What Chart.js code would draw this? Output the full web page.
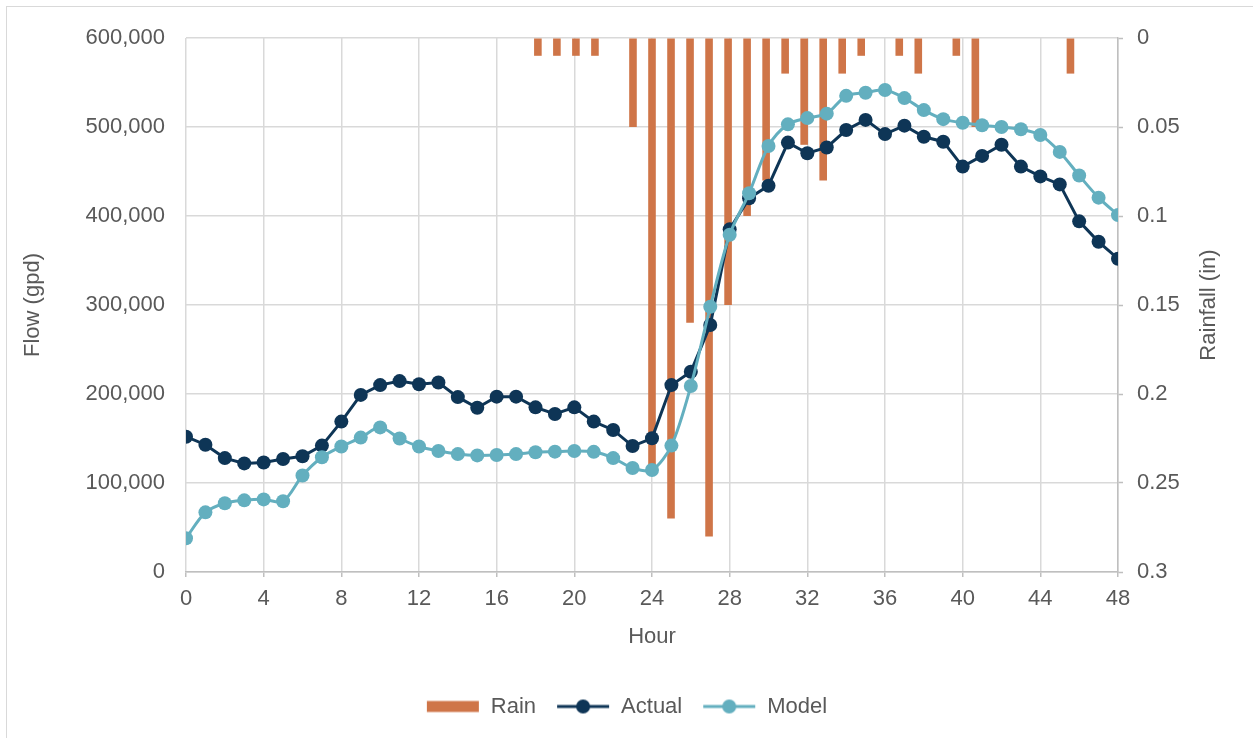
<!DOCTYPE html>
<html><head><meta charset="utf-8">
<script src="https://cdn.jsdelivr.net/npm/chart.js@4.4.1/dist/chart.umd.min.js"></script>
<style>
html,body{margin:0;padding:0;background:#fff;}
#wrap{position:relative;width:1253px;height:738px;overflow:hidden;background:#fff;}
#frame{position:absolute;left:6px;top:6px;width:1300px;height:800px;border:1.5px solid #d9d9d9;box-sizing:border-box;}
#c{position:absolute;left:0;top:0;}
</style></head><body>
<div id="wrap"><div id="frame"></div><canvas id="c" width="1253" height="738"></canvas></div>
<script>
// ---- data ----
const hours = [0,1,2,3,4,5,6,7,8,9,10,11,12,13,14,15,16,17,18,19,20,21,22,23,24,25,26,27,28,29,30,31,32,33,34,35,36,37,38,39,40,41,42,43,44,45,46,47,48];
const hourTickLabels = ['0','4','8','12','16','20','24','28','32','36','40','44','48'];
const flowTickLabels = ['0','100,000','200,000','300,000','400,000','500,000','600,000'];
const rainTickLabels = ['0','0.05','0.1','0.15','0.2','0.25','0.3'];
const actual = [152000,143000,128000,122000,123000,127000,130000,142000,169000,199000,210000,214500,211000,213000,196500,184500,197000,197000,185000,177500,185000,169000,159600,141500,150200,210000,225000,277500,385000,420000,434000,482500,470500,477000,496600,508000,492000,501500,489000,483500,455500,467500,480000,455500,444500,435500,394000,371000,352000];
const model = [38000,67000,77300,80500,81600,79500,108500,129000,141000,151000,162500,150000,141000,136000,132500,131000,131500,132500,134500,135200,136000,135000,128000,116800,114600,142000,209000,298000,379000,425500,478700,503000,510000,515000,535000,538500,541600,532500,519000,508800,504800,502000,500000,497400,491000,472000,445500,420600,401000];
const rain = [0,0,0,0,0,0,0,0,0,0,0,0,0,0,0,0,0,0,0.01,0.01,0.01,0.01,0,0.05,0.24,0.27,0.16,0.28,0.15,0.10,0.08,0.02,0.06,0.08,0.02,0.01,0,0.01,0.02,0,0.01,0.05,0,0,0,0,0.02,0,0];

// ---- styles ----
const FONT = "'Liberation Sans', Arial, sans-serif";
const FS = 22;
const TXT = '#595959';
const GRID = '#d9d9d9';
const AXIS = '#bfbfbf';
const RAIN_C = '#CF7548';
const ACT_C = '#0E3556';
const MOD_C = '#63AFBF';

function legendImg(kind, color){
  const cv = document.createElement('canvas');
  cv.width = 54; cv.height = 16;
  const g = cv.getContext('2d');
  if (kind === 'bar'){
    g.fillStyle = color; g.fillRect(1,2.5,52,11);
  } else {
    g.strokeStyle = color; g.lineWidth = 3;
    g.beginPath(); g.moveTo(1,8); g.lineTo(53,8); g.stroke();
    g.fillStyle = color; g.beginPath(); g.arc(27,8,7,0,Math.PI*2); g.fill();
  }
  return cv;
}
const legendImgs = [legendImg('bar',RAIN_C), legendImg('line',ACT_C), legendImg('line',MOD_C)];

const rightTitle = {
  id:'rightTitle',
  afterDraw(chart){
    const ctx = chart.ctx;
    ctx.save();
    ctx.translate(1209, (chart.chartArea.top+chart.chartArea.bottom)/2);
    ctx.rotate(-Math.PI/2);
    ctx.fillStyle = TXT;
    ctx.font = FS + "px " + FONT;
    ctx.textAlign = 'center';
    ctx.textBaseline = 'middle';
    ctx.fillText('Rainfall (in)', 0, 0);
    ctx.restore();
  }
};

new Chart(document.getElementById('c'), {
  data: {
    labels: hours,
    datasets: [
      {
        type:'bar', label:'Rain', data: rain, xAxisID:'xb', yAxisID:'y2',
        backgroundColor: RAIN_C, borderWidth:0, grouped:false,
        categoryPercentage:0.8, barPercentage:0.5, maxBarThickness:8, order:3
      },
      {
        type:'line', label:'Actual', data: hours.map((h,i)=>({x:h,y:actual[i]})),
        xAxisID:'x', yAxisID:'y', borderColor: ACT_C, backgroundColor: ACT_C,
        borderWidth:3, pointRadius:7, pointBorderWidth:0, pointBackgroundColor: ACT_C,
        tension:0, order:2
      },
      {
        type:'line', label:'Model', data: hours.map((h,i)=>({x:h,y:model[i]})),
        xAxisID:'x', yAxisID:'y', borderColor: MOD_C, backgroundColor: MOD_C,
        borderWidth:3, pointRadius:7, pointBorderWidth:0, pointBackgroundColor: MOD_C,
        tension:0.3, order:1
      }
    ]
  },
  options: {
    responsive:false, animation:false,
    layout:{ padding:{ left:0, right:0, top:38, bottom:10.5 } },
    font:{ family: FONT },
    scales: {
      x: {
        type:'linear', position:'bottom', min:0, max:48,
        afterFit(s){ s.height = 103.5; },
        ticks:{ stepSize:4, color:TXT, font:{family:FONT,size:FS}, padding:9, maxRotation:0,
                callback:(v,i)=>hourTickLabels[i] },
        grid:{ color:GRID, lineWidth:1.5, drawTicks:true, tickLength:5, tickColor:AXIS, tickWidth:1.5 },
        border:{ color:AXIS, width:1.5 },
        title:{ display:true, text:'Hour', color:TXT, font:{family:FONT,size:FS}, padding:{top:0,bottom:25} }
      },
      xb: {
        type:'category', labels: hours.map(String), offset:true, display:false
      },
      y: {
        type:'linear', position:'left', min:0, max:600000,
        afterFit(s){ s.width = 186; },
        ticks:{ stepSize:100000, color:TXT, font:{family:FONT,size:FS}, padding:21,
                callback:(v,i)=>flowTickLabels[i] },
        grid:{ color:GRID, lineWidth:1.5, drawTicks:false },
        border:{ display:false },
        title:{ display:true, text:'Flow (gpd)', color:TXT, font:{family:FONT,size:FS}, padding:{top:20,bottom:0} }
      },
      y2: {
        type:'linear', position:'right', reverse:true, min:0, max:0.3,
        afterFit(s){ s.width = 135; },
        ticks:{ stepSize:0.05, color:TXT, font:{family:FONT,size:FS}, padding:14,
                callback:(v,i,ticks)=>rainTickLabels[ticks.length-1-i] },
        grid:{ drawOnChartArea:false, drawTicks:true, tickLength:5, tickColor:AXIS, tickWidth:1.5 },
        border:{ color:AXIS, width:1.5 }
      }
    },
    plugins: {
      tooltip:{ enabled:false },
      legend:{
        position:'bottom',
        labels:{
          usePointStyle:true, pointStyleWidth:54, padding:20,
          color:TXT, font:{family:FONT,size:FS},
          sort:(a,b)=>a.datasetIndex-b.datasetIndex,
          generateLabels(chart){
            const items = Chart.defaults.plugins.legend.labels.generateLabels(chart);
            items.forEach(it=>{ it.pointStyle = legendImgs[it.datasetIndex]; it.lineWidth = 0; });
            return items;
          }
        }
      }
    }
  },
  plugins:[rightTitle]
});
</script>
</body></html>
